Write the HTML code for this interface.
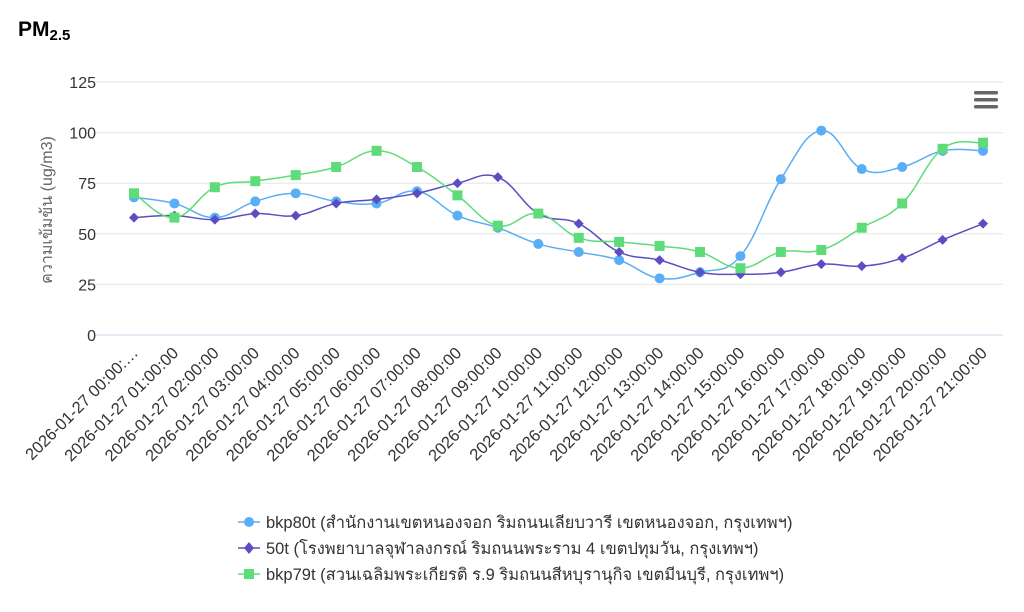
<!DOCTYPE html>
<html><head><meta charset="utf-8"><style>
body{margin:0;background:#fff;font-family:"Liberation Sans","Noto Sans CJK SC",sans-serif;}
svg text{font-family:"Liberation Sans","Noto Sans CJK SC",sans-serif;}
</style></head><body>
<svg id="c" width="1024" height="607" xmlns="http://www.w3.org/2000/svg">
<text x="18" y="36" font-size="21" font-weight="bold" fill="#000">PM<tspan font-size="15" dy="4">2.5</tspan></text>
<g fill="#666"><rect x="974" y="91" width="24" height="3.5" rx="1.5"/><rect x="974" y="98" width="24" height="3.5" rx="1.5"/><rect x="974" y="105" width="24" height="3.5" rx="1.5"/></g>
<text transform="translate(52,210) rotate(-90)" text-anchor="middle" font-size="16" fill="#666">ความเข้มข้น (ug/m3)</text>
<g id="grid"></g><g id="series"></g><g id="xl"></g>
<g font-size="16.5" fill="#333">
<line x1="238" y1="522" x2="260" y2="522" stroke="#5aaef5" stroke-width="1.5"/><circle cx="249" cy="522" r="5" fill="#5aaef5"/>
<text x="266" y="528">bkp80t (สำนักงานเขตหนองจอก ริมถนนเลียบวารี เขตหนองจอก, กรุงเทพฯ)</text>
<line x1="238" y1="548" x2="260" y2="548" stroke="#5b4ec2" stroke-width="1.5"/><path d="M249 542 L254 548 L249 554 L244 548Z" fill="#5b4ec2"/>
<text x="266" y="554">50t (โรงพยาบาลจุฬาลงกรณ์ ริมถนนพระราม 4 เขตปทุมวัน, กรุงเทพฯ)</text>
<line x1="238" y1="574" x2="260" y2="574" stroke="#5fdc7a" stroke-width="1.5"/><rect x="244" y="569" width="10" height="10" fill="#5fdc7a"/>
<text x="266" y="580">bkp79t (สวนเฉลิมพระเกียรติ ร.9 ริมถนนสีหบุรานุกิจ เขตมีนบุรี, กรุงเทพฯ)</text>
</g>
</svg>
<script>
const NS="http://www.w3.org/2000/svg";
function el(p,t,a,txt){const e=document.createElementNS(NS,t);for(const k in a)e.setAttribute(k,a[k]);if(txt!=null)e.textContent=txt;p.appendChild(e);return e;}
const Y=v=>335-v*2.024, X=i=>134+i*40.43;
const g=document.getElementById('grid');
for(let v=0;v<=125;v+=25){el(g,'line',{x1:95,x2:1003,y1:Y(v),y2:Y(v),stroke:v==0?'#ccd6eb':'#e6e6e6'});
el(g,'text',{x:96,y:Y(v)+6,'text-anchor':'end','font-size':16,fill:'#333'},v);}
const xl=document.getElementById('xl');
for(let i=0;i<22;i++){const h=String(i).padStart(2,'0');const t=i==0?'2026-01-27 00:00:…':'2026-01-27 '+h+':00:00';
el(xl,'text',{transform:`translate(${X(i)+5},${354}) rotate(-45)`,'text-anchor':'end','font-size':16.5,fill:'#333'},t);}
const S=[
{c:'#5aaef5',m:'c',d:[68,65,58,66,70,66,65,71,59,53,45,41,37,28,31,39,77,101,82,83,91,91]},
{c:'#5b4ec2',m:'d',d:[58,59,57,60,59,65,67,70,75,78,60,55,41,37,31,30,31,35,34,38,47,55]},
{c:'#5fdc7a',m:'s',d:[70,58,73,76,79,83,91,83,69,54,60,48,46,44,41,33,41,42,53,65,92,95]}];
const sg=document.getElementById('series');
S.forEach(s=>{const P=s.d.map((v,i)=>[X(i),Y(v)]);let d=`M${P[0][0]} ${P[0][1]}`;
for(let i=0;i<P.length-1;i++){const p0=P[Math.max(0,i-1)],p1=P[i],p2=P[i+1],p3=P[Math.min(P.length-1,i+2)];const k=0.2;
d+=` C${p1[0]+(p2[0]-p0[0])*k} ${p1[1]+(p2[1]-p0[1])*k} ${p2[0]-(p3[0]-p1[0])*k} ${p2[1]-(p3[1]-p1[1])*k} ${p2[0]} ${p2[1]}`;}
el(sg,'path',{d,fill:'none',stroke:s.c,'stroke-width':1.5});
P.forEach(([x,y])=>{if(s.m=='c')el(sg,'circle',{cx:x,cy:y,r:5,fill:s.c});
else if(s.m=='d')el(sg,'path',{d:`M${x} ${y-5}L${x+5} ${y}L${x} ${y+5}L${x-5} ${y}Z`,fill:s.c});
else el(sg,'rect',{x:x-5,y:y-5,width:10,height:10,fill:s.c});});});
</script>
</body></html>
